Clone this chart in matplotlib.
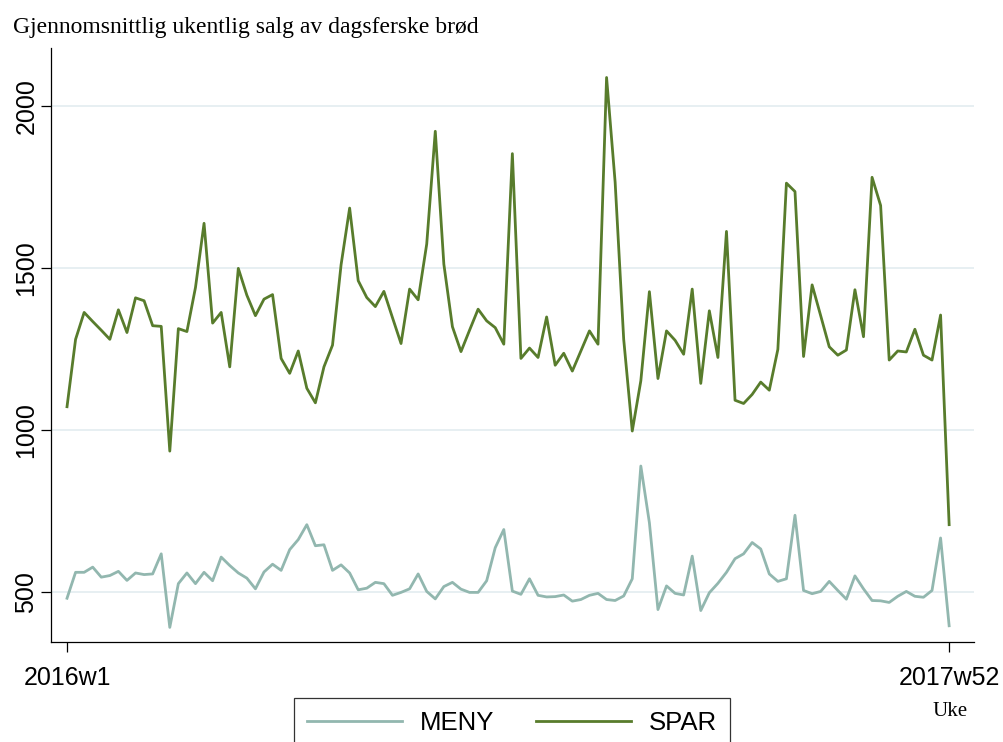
import matplotlib
matplotlib.use("Agg")
import matplotlib.pyplot as plt

# Average weekly sales per store, 2016w1 .. 2017w52
meny = [481, 561, 561, 577, 546, 551, 564, 536, 559, 554,
        556, 618, 391, 526, 559, 526, 561, 535, 608, 582,
        559, 543, 510, 562, 586, 567, 631, 662, 708, 643,
        646, 567, 584, 559, 507, 512, 530, 526, 490, 499,
        510, 556, 502, 479, 517, 530, 509, 499, 499, 535,
        637, 693, 503, 493, 541, 490, 485, 486, 491, 472,
        477, 490, 496, 477, 474, 488, 541, 889, 714, 446,
        519, 496, 491, 611, 443, 498, 527, 561, 603, 618,
        653, 633, 556, 533, 541, 737, 505, 495, 502, 533,
        505, 478, 550, 510, 474, 473, 468, 487, 502, 487,
        484, 505, 667, 396]

spar = [1072, 1280, 1363, 1335, 1308, 1280, 1371, 1301, 1408, 1399,
        1322, 1320, 935, 1313, 1304, 1440, 1638, 1330, 1363, 1195,
        1499, 1416, 1353, 1404, 1418, 1221, 1175, 1244, 1129, 1084,
        1195, 1262, 1510, 1685, 1461, 1409, 1381, 1428, 1347, 1267,
        1435, 1402, 1574, 1922, 1512, 1319, 1242, 1308, 1373, 1337,
        1316, 1265, 1853, 1221, 1253, 1224, 1349, 1200, 1237, 1182,
        1244, 1306, 1265, 2088, 1765, 1280, 997, 1152, 1427, 1159,
        1306, 1277, 1234, 1435, 1144, 1368, 1224, 1613, 1092, 1082,
        1110, 1148, 1123, 1249, 1762, 1736, 1227, 1448, 1353, 1257,
        1231, 1247, 1433, 1288, 1780, 1693, 1216, 1244, 1241, 1311,
        1231, 1216, 1355, 708]

week_ticks = [0, 103]
week_labels = ["2016w1", "2017w52"]
y_ticks = [500, 1000, 1500, 2000]

meny_color = "#92b7af"
spar_color = "#587c2c"
grid_color = "#e5eef1"

fig = plt.figure(figsize=(10.04, 7.42), dpi=100)
ax = fig.add_axes([0.0508, 0.1348, 0.9193, 0.8005])

weeks = list(range(len(spar)))
ax.plot(weeks, meny, color=meny_color, lw=2.0, label="MENY")
ax.plot(weeks, spar, color=spar_color, lw=2.0, label="SPAR")

for y in y_ticks:
    ax.axhline(y, color=grid_color, lw=1.3, zorder=0)

ax.set_xlim(-1.87, 105.9)
ax.set_ylim(346, 2179)
ax.set_xticks(week_ticks)
ax.set_xticklabels(week_labels, family="Liberation Sans", fontsize=18)
ax.set_yticks(y_ticks)
ax.set_yticklabels([str(v) for v in y_ticks], family="Liberation Sans",
                   fontsize=18, rotation=90, va="center")
ax.tick_params(axis="x", length=7, width=0.9, pad=10)
ax.tick_params(axis="y", length=7, width=0.9, pad=2)

for side in ["top", "right"]:
    ax.spines[side].set_visible(False)
for side in ["left", "bottom"]:
    ax.spines[side].set_linewidth(0.9)

fig.text(13 / 1004, 1 - 27 / 742, "Gjennomsnittlig ukentlig salg av dagsferske brød",
         family="Liberation Serif", fontsize=17, va="center", ha="left")
fig.text(950 / 1004, 1 - 712 / 742, "Uke", family="Liberation Serif",
         fontsize=15, va="center", ha="center")

leg = fig.legend(loc="upper center", bbox_to_anchor=(512 / 1004, 1 - 698 / 742),
                 ncol=2, frameon=True, fancybox=False, handlelength=3.7,
                 handletextpad=0.7, columnspacing=1.6, borderpad=0.5,
                 borderaxespad=0, prop={"family": "Liberation Sans", "size": 18.5})
leg.get_frame().set_edgecolor("black")
leg.get_frame().set_linewidth(0.9)

fig.savefig("out.png", dpi=100)
